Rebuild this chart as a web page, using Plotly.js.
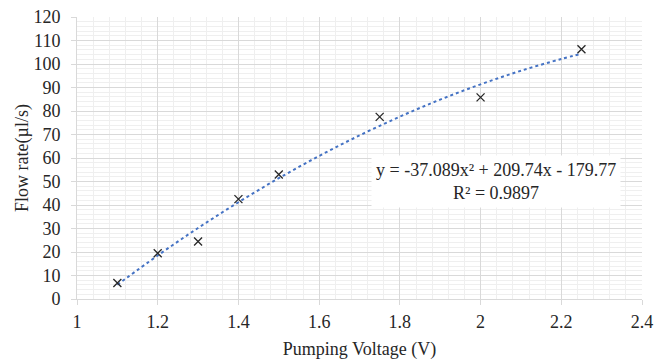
<!DOCTYPE html>
<html>
<head>
<meta charset="utf-8">
<script src="https://cdn.plot.ly/plotly-3.0.1.min.js"></script>
<style>html,body{margin:0;padding:0;background:#fff;}#chart{width:669px;height:362px;}</style>
</head>
<body>
<div id="chart"></div>
<script>
// Measured data points
const voltage = [1.1, 1.2, 1.3, 1.4, 1.5, 1.75, 2.0, 2.25];
const flowRate = [6.8, 19.5, 24.5, 42.5, 53.0, 77.5, 85.8, 106.3];
// Polynomial trendline
const trendX = [1.1, 1.2, 1.3, 1.4, 1.5, 1.6, 1.7, 1.8, 1.9, 2.0, 2.1, 2.2, 2.25];
const trendY = [6.07, 18.51, 30.21, 41.17, 51.39, 60.87, 69.60, 77.59, 84.85, 91.35, 97.12, 102.15, 104.38];
const xTicks = [1, 1.2, 1.4, 1.6, 1.8, 2, 2.2, 2.4];
const yTicks = [0, 10, 20, 30, 40, 50, 60, 70, 80, 90, 100, 110, 120];
const eqText = 'y = -37.089x² + 209.74x - 179.77<br>R² = 0.9897';

const fontFam = '"Liberation Serif", "Times New Roman", serif';
const txtColor = '#262626';

const traces = [
  {
    x: trendX, y: trendY, type: 'scatter', mode: 'lines',
    line: {color: '#4472C4', width: 2, dash: 'dot', shape: 'spline'},
    hoverinfo: 'skip', showlegend: false
  },
  {
    x: voltage, y: flowRate, type: 'scatter', mode: 'markers',
    marker: {symbol: 'x-thin', size: 8, line: {color: '#262626', width: 1.3}, color: '#262626'},
    showlegend: false
  }
];

const layout = {
  width: 669, height: 362,
  margin: {l: 77, r: 27, t: 17, b: 63},
  paper_bgcolor: '#fff', plot_bgcolor: '#fff',
  font: {family: fontFam, size: 18, color: txtColor},
  xaxis: {
    range: [1, 2.4], tickvals: xTicks, ticktext: xTicks.map(String),
    showgrid: true, gridcolor: '#d9d9d9', gridwidth: 1,
    minor: {dtick: 0.04, tick0: 1, showgrid: true, gridcolor: '#efefef', gridwidth: 1},
    showline: true, linecolor: '#d9d9d9', linewidth: 1, mirror: false,
    ticks: 'outside', ticklen: 5, tickcolor: '#d9d9d9',
    ticklabelstandoff: 1,
    zeroline: false,
    tickfont: {family: fontFam, size: 18, color: txtColor},
    title: {text: 'Pumping Voltage (V)', font: {family: fontFam, size: 18, color: txtColor}, standoff: 11}
  },
  yaxis: {
    range: [0, 120], tickvals: yTicks, ticktext: yTicks.map(String),
    showgrid: true, gridcolor: '#d9d9d9', gridwidth: 1,
    minor: {dtick: 2, tick0: 0, showgrid: true, gridcolor: '#efefef', gridwidth: 1},
    showline: true, linecolor: '#d9d9d9', linewidth: 1,
    ticks: 'outside', ticklen: 5, tickcolor: '#d9d9d9',
    ticklabelstandoff: 7,
    zeroline: false,
    tickfont: {family: fontFam, size: 18, color: txtColor},
    title: {text: 'Flow rate(µl/s)', font: {family: fontFam, size: 18, color: txtColor}, standoff: 0}
  },
  annotations: [{
    x: 2.038, y: 50, xref: 'x', yref: 'y', text: eqText, showarrow: false,
    font: {family: fontFam, size: 18, color: txtColor},
    bgcolor: '#fff', borderpad: 4, align: 'center'
  }]
};

Plotly.newPlot('chart', traces, layout, {displayModeBar: false, staticPlot: true});
</script>
</body>
</html>
